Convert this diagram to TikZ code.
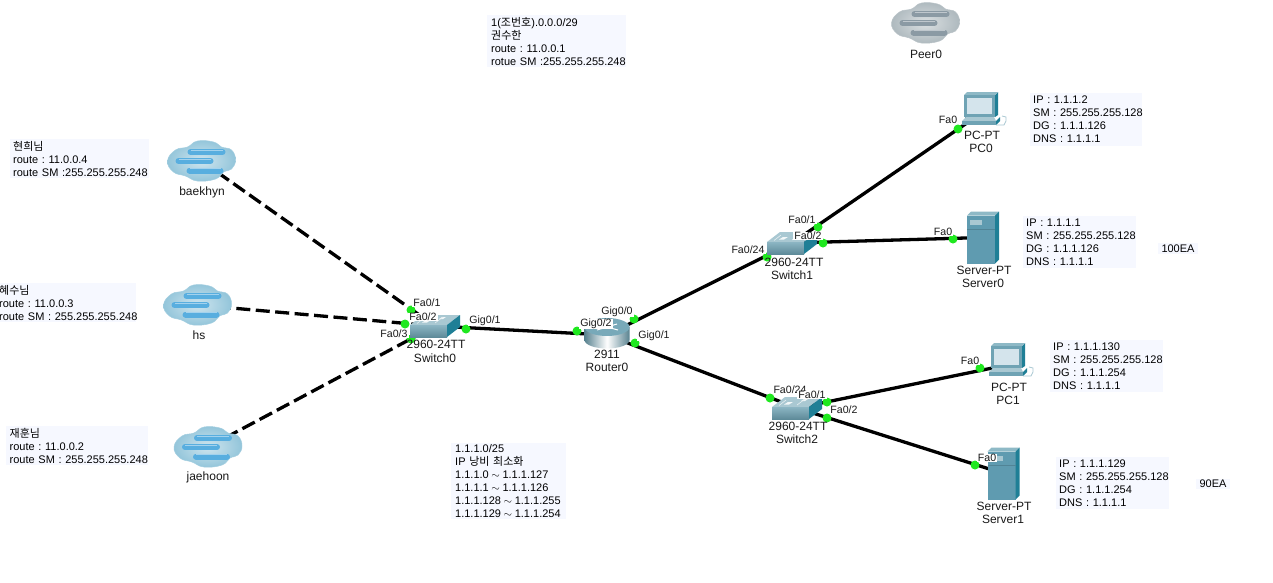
\documentclass[tikz,border=0pt]{standalone}
\usepackage{fontspec}
\setmainfont{Liberation Sans}
\newfontfamily\kr{Noto Sans CJK KR}
\definecolor{notebg}{HTML}{F6F8FF}
\definecolor{dotgreen}{HTML}{1FE81F}
\definecolor{devfront}{HTML}{6FA3B4}
\definecolor{devtop}{HTML}{A9C8D2}
\definecolor{devside}{HTML}{1F7F96}
\definecolor{srvfront}{HTML}{5F9BB0}
\definecolor{screen}{HTML}{D4E4EC}
\definecolor{cloudblue}{HTML}{93C5DA}
\definecolor{barblue}{HTML}{58AEDF}
\definecolor{cloudgrey}{HTML}{AEB9BE}
\definecolor{bargrey}{HTML}{8B9AA4}
\newcommand\tld{\kern2.6pt$\sim$\kern2.6pt}
\newcommand\nwl[1]{\mbox{#1}}
\tikzset{
  lnk/.style={line width=3.3pt,black},
  dlnk/.style={lnk,dash pattern=on 14pt off 5.5pt},
  dev/.style={inner sep=0pt,minimum size=1pt},
  note/.style={anchor=north west,fill=notebg,align=left,inner xsep=3pt,inner ysep=0pt,font=\fontsize{11}{13}\selectfont\frenchspacing},
  lab/.style={inner sep=0pt,font=\fontsize{12}{13}\selectfont,text=black!90},
  port/.style={inner sep=0pt,font=\fontsize{10.6}{13}\selectfont,text=black!90,fill=white,inner xsep=1pt,inner ysep=0.5pt},
  eatag/.style={inner sep=0pt,inner xsep=3.5pt,inner ysep=1.5pt,fill=notebg,font=\fontsize{11}{13}\selectfont},
  dot/.style={circle,fill=dotgreen,inner sep=0pt,minimum size=9pt},
  pics/cloudicon/.style 2 args={code={
    \shade[inner color=#1!45!white,outer color=#1,draw=#1!85!white,line width=.5pt]
      plot[smooth cycle,tension=.75] coordinates{(-34,0)(-26,-11)(-14,-14)(-4,-20)(12,-19)(20,-14)(30,-11)(34,-1)(30,8)(22,11)(14,18)(-4,20)(-16,15)(-28,11)};
    \draw[#2,line width=6pt,line cap=round] (-11,-9)--(21,-9);
    \draw[#2,line width=6pt,line cap=round] (-23,0)--(9,0);
    \draw[#2,line width=6pt,line cap=round] (-12,9.5)--(19,9.5);
    \draw[#2!55!white,line width=1pt] (-11,-11)--(21,-11) (-23,-2)--(9,-2) (-12,7.5)--(19,7.5);
  }},
  pics/switchicon/.style={code={
    \fill[devtop] (-25,-1)--(-12,-11)--(25,-11)--(12,-1)--cycle;
    \shade[top color=devfront!80!white,bottom color=devfront!85!black] (-25,-1) rectangle (12,11);
    \fill[devside] (12,-1)--(25,-11)--(25,1)--(12,11)--cycle;
    \fill[white!85!devtop] (-13,-3.5)--(-9,-6)--(-4,-6)--(-8,-3.5)--cycle (4,-7)--(7,-9)--(11,-9)--(8,-7)--cycle;
    \draw[white!70!devtop,line width=.6pt] (-18,-2.5)--(-11,-8) (0,-3)--(8,-9);
  }},
  pics/routericon/.style={code={
    \shade[left color=devfront!80!black,right color=devfront!80!black,middle color=white]
      (-22.5,-8) -- (-22.5,5) arc[start angle=180,end angle=0,x radius=22.5,y radius=8.5] -- (22.5,-8)--cycle;
    \fill[devfront!85!devtop] (0,-8) ellipse[x radius=22.5,y radius=9];
    \draw[white,line width=1pt] (-11,-11)--(11,-5) (-10,-5)--(10,-11);
  }},
  pics/pcicon/.style={code={
    \fill[devside] (15,-19)--(18,-22)--(18,1)--(15,3)--cycle;
    \fill[devtop!80!devside] (-16,-19)--(-13,-22)--(18,-22)--(15,-19)--cycle;
    \fill[devfront] (-16,-19) rectangle (15,3);
    \fill[screen] (-13,-16) rectangle (12,0);
    \fill[devfront!90!black] (-15,3)--(14,3)--(14,7)--(-15,7)--cycle;
    \fill[devtop] (-18,7)--(-14,3)--(14,3)--(16,7)--cycle;
    \fill[devfront] (-18,7) rectangle (16,11);
    \fill[devside] (16,7)--(20,3)--(20,7)--(16,11)--cycle;
    \draw[devtop,line width=.8pt] (16,11)--(24,11)--(26,7)--(26,3)--(22,2);
  }},
  pics/servericon/.style={code={
    \fill[devtop!80!devside] (-16,-22)--(-12,-26)--(16,-26)--(12,-22)--cycle;
    \fill[srvfront] (-16,-22) rectangle (12,26);
    \fill[devside] (12,-22)--(16,-26)--(16,22)--(12,26)--cycle;
    \fill[devtop] (-13,-18) rectangle (-1,-13);
    \draw[srvfront!85!black,line width=.5pt] (-16,-8)--(12,-8);
  }},
}
\begin{document}
\begin{tikzpicture}[x=1pt,y=-1pt]
\useasboundingbox (0,0) rectangle (1273,582);
\fill[white] (0,0) rectangle (1273,582);
% anchor nodes of the devices
\node[dev] (baekhyn) at (201.5,161) {};
\node[dev] (hs) at (197.5,305) {};
\node[dev] (jaehoon) at (208,447) {};
\node[dev] (peer0) at (925.5,23) {};
\node[dev] (switch0) at (435,326) {};
\node[dev] (router0) at (607,335) {};
\node[dev] (switch1) at (792,243) {};
\node[dev] (switch2) at (797,408) {};
\node[dev] (pc0) at (980,114) {};
\node[dev] (pc1) at (1007,365) {};
\node[dev] (server0) at (983,237.5) {};
\node[dev] (server1) at (1003.5,473.5) {};
% links
\draw[dlnk] (baekhyn.center) -- (switch0.center);
\draw[dlnk] (hs.center) -- (switch0.center);
\draw[dlnk] (jaehoon.center) -- (switch0.center);
\draw[lnk] (switch0.center) -- (router0.center);
\draw[lnk] (router0.center) -- (switch1.center);
\draw[lnk] (router0.center) -- (switch2.center);
\draw[lnk] (switch1.center) -- (pc0.center);
\draw[lnk] (switch1.center) -- (server0.center);
\draw[lnk] (switch2.center) -- (pc1.center);
\draw[lnk] (switch2.center) -- (server1.center);
% link lights
\foreach \n/\p in {d1/{411,310},d2/{405,324},d3/{411,339},d4/{466,329},d5/{577,331},d6/{634,319},d7/{635,343},d8/{767,257},d9/{818,227},d10/{823,243},d11/{958,129},d12/{953,239},d13/{770,398},d14/{827,402},d15/{827,418},d16/{980,368},d17/{975,465}}
  \node[dot] (\n) at (\p) {};
% icons
\pic at (baekhyn.center) {cloudicon={cloudblue}{barblue}};
\pic at (hs.center) {cloudicon={cloudblue}{barblue}};
\pic at (jaehoon.center) {cloudicon={cloudblue}{barblue}};
\pic at (peer0.center) {cloudicon={cloudgrey}{bargrey}};
\pic at (switch0.center) {switchicon};
\pic at (switch1.center) {switchicon};
\pic at (switch2.center) {switchicon};
\pic at (router0.center) {routericon};
\pic at (pc0.center) {pcicon};
\pic at (pc1.center) {pcicon};
\pic at (server0.center) {servericon};
\pic at (server1.center) {servericon};
% device labels
\node[lab] (lb1) at (202,192) {baekhyn};
\node[lab] (lb2) at (199,335) {hs};
\node[lab] (lb3) at (208,477) {jaehoon};
\node[lab] (lb4) at (926,54) {Peer0};
\node[lab] (ls0a) at (436,344) {2960-24TT};
\node[lab] (ls0b) at (435,358) {Switch0};
\node[lab] (lr0a) at (607,354) {2911};
\node[lab] (lr0b) at (607,367) {Router0};
\node[lab] (ls1a) at (794,262) {2960-24TT};
\node[lab] (ls1b) at (792,275) {Switch1};
\node[lab] (ls2a) at (798,426) {2960-24TT};
\node[lab] (ls2b) at (797,439) {Switch2};
\node[lab] (lp0a) at (982,135) {PC-PT};
\node[lab] (lp0b) at (981,148) {PC0};
\node[lab] (lp1a) at (1009,387) {PC-PT};
\node[lab] (lp1b) at (1008,400) {PC1};
\node[lab] (lv0a) at (984,270) {Server-PT};
\node[lab] (lv0b) at (983,283) {Server0};
\node[lab] (lv1a) at (1004,506) {Server-PT};
\node[lab] (lv1b) at (1003,519) {Server1};
% port labels
\node[port] (p1) at (427,303) {Fa0/1};
\node[port] (p2) at (423,317) {Fa0/2};
\node[port] (p3) at (394,334) {Fa0/3};
\node[port] (p4) at (485,321) {Gig0/1};
\node[port] (p5) at (596,324) {Gig0/2};
\node[port] (p6) at (617,312) {Gig0/0};
\node[port] (p7) at (654,336) {Gig0/1};
\node[port] (p8) at (802,220) {Fa0/1};
\node[port] (p9) at (808,236) {Fa0/2};
\node[port] (p10) at (748,250) {Fa0/24};
\node[port] (p11) at (948,120) {Fa0};
\node[port] (p12) at (943,232) {Fa0};
\node[port] (p13) at (790,390) {Fa0/24};
\node[port] (p14) at (812,395) {Fa0/1};
\node[port] (p15) at (844,410) {Fa0/2};
\node[port] (p16) at (970,361) {Fa0};
\node[port] (p17) at (987,458) {Fa0};
% notes
\node[note,text width=133pt,minimum height=39pt] (n1) at (10,139) {{\kr 현희님}\\route : 11.0.0.4\\\nwl{route SM :255.255.255.248}};
\node[note,text width=135pt,inner xsep=2pt,minimum height=39pt] (n2) at (-3,283) {{\kr 혜수님}\\route : 11.0.0.3\\\nwl{route SM : 255.255.255.248}};
\node[note,text width=135pt,inner xsep=3.5pt,minimum height=39pt] (n3) at (6,426) {{\kr 재훈님}\\route : 11.0.0.2\\\nwl{route SM : 255.255.255.248}};
\node[note,text width=131pt,inner xsep=4pt,minimum height=52pt] (n4) at (487,15) {1({\kr 조번호}).0.0.0/29\\{\kr 권수한}\\route : 11.0.0.1\\\nwl{rotue SM :255.255.255.248}};
\node[note,text width=107pt,inner xsep=4pt,minimum height=76pt] (n5) at (451,443) {1.1.1.0/25\\IP {\kr 낭비 최소화}\\\nwl{1.1.1.0\tld 1.1.1.127}\\\nwl{1.1.1.1\tld 1.1.1.126}\\\nwl{1.1.1.128\tld 1.1.1.255}\\\nwl{1.1.1.129\tld 1.1.1.254}};
\node[note,text width=106pt,minimum height=53pt] (n6) at (1030,93) {IP : 1.1.1.2\\\nwl{SM : 255.255.255.128}\\DG : 1.1.1.126\\DNS : 1.1.1.1};
\node[note,text width=107pt,minimum height=52pt] (n7) at (1023,216) {IP : 1.1.1.1\\\nwl{SM : 255.255.255.128}\\DG : 1.1.1.126\\DNS : 1.1.1.1};
\node[note,text width=107pt,minimum height=52pt] (n8) at (1050,340) {IP : 1.1.1.130\\\nwl{SM : 255.255.255.128}\\DG : 1.1.1.254\\DNS : 1.1.1.1};
\node[note,text width=107pt,minimum height=52pt] (n9) at (1056,457) {IP : 1.1.1.129\\\nwl{SM : 255.255.255.128}\\DG : 1.1.1.254\\DNS : 1.1.1.1};
\node[eatag] (ea1) at (1178,248.5) {100EA};
\node[eatag] (ea2) at (1213,484) {90EA};
\end{tikzpicture}
\end{document}
